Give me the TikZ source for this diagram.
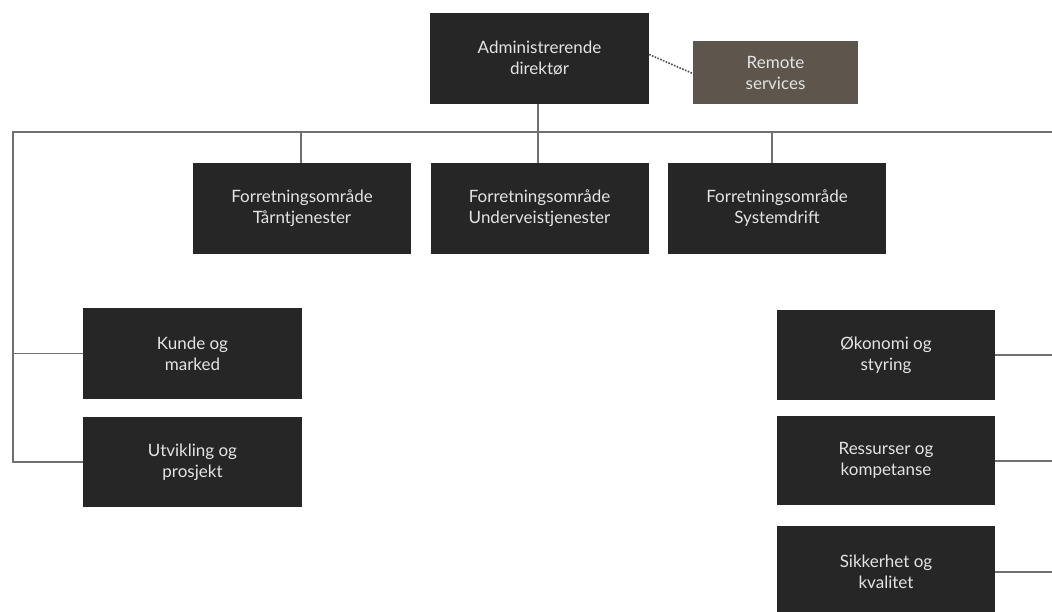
\documentclass[tikz,border=0pt]{standalone}
\usepackage{fontspec}
\setmainfont{Lato}
\definecolor{boxdark}{HTML}{272626}
\definecolor{boxbrown}{HTML}{5E554C}
\definecolor{linegray}{HTML}{707070}
\definecolor{txt}{HTML}{E4E4E4}
\tikzset{
  unit/.style={draw=none, fill=boxdark, text=txt, align=center, inner sep=0pt,
    font=\fontsize{17}{21}\selectfont},
  wide/.style={unit, minimum width=218pt, minimum height=91pt},
  remote/.style={unit, fill=boxbrown, minimum width=165pt, minimum height=63pt},
  conn/.style={draw=linegray, line width=1.5pt},
  dotconn/.style={draw=linegray!70!black, line width=1.6pt, dash pattern=on 1.6pt off 1.4pt}
}
\begin{document}
\begin{tikzpicture}[x=1pt,y=-1pt]
\useasboundingbox (0,0) rectangle (1052,612);
\fill[white] (0,0) rectangle (1052,612);
\clip (0,0) rectangle (1052,612);
% nodes
\node[wide, minimum width=219pt] (adm) at (539.5,58.5) {Administrerende\\direktør};
\node[remote] (rem) at (775.5,72.5) {Remote\\services};
\node[wide] (b1) at (302,208.5) {Forretningsområde\\Tårntjenester};
\node[wide] (b2) at (539.5,208.5) {Forretningsområde\\Underveistjenester};
\node[wide] (b3) at (777,208.5) {Forretningsområde\\Systemdrift};
\node[wide, minimum width=219pt] (l1) at (192.5,353.5) {Kunde og\\marked};
\node[wide, minimum width=219pt, minimum height=90pt] (l2) at (192.5,462) {Utvikling og\\prosjekt};
\node[wide, minimum height=90pt] (r1) at (886,355) {Økonomi og\\styring};
\node[wide, minimum height=89pt] (r2) at (886,460.5) {Ressurser og\\kompetanse};
\node[wide] (r3) at (886,571.5) {Sikkerhet og\\kvalitet};
% coordinates
\coordinate (busL) at (13,132);
\coordinate (busR) at (1053,132);
\coordinate (eR1) at (1053,355);
\coordinate (eR2) at (1053,461);
\coordinate (eR3) at (1053,572);
% connectors
\draw[dotconn] ([yshift=4pt]adm.east) -- ([yshift=-1pt]rem.west);
\draw[conn] (busR) -- (busL) -- (busL |- l2.west) -- (l2.west);
\draw[conn] (busL |- l1.west) -- (l1.west);
\draw[conn] ([xshift=-1.5pt]adm.south) -- ([xshift=-1.5pt]b2.north);
\draw[conn] ([xshift=-1pt]b1.north) -- ([xshift=-1pt]b1.north |- busL);
\draw[conn] ([xshift=-5pt]b3.north) -- ([xshift=-5pt]b3.north |- busL);
\draw[conn] (r1.east |- eR1) -- (eR1);
\draw[conn] (r2.east |- eR2) -- (eR2);
\draw[conn] (r3.east |- eR3) -- (eR3);
\end{tikzpicture}
\end{document}
